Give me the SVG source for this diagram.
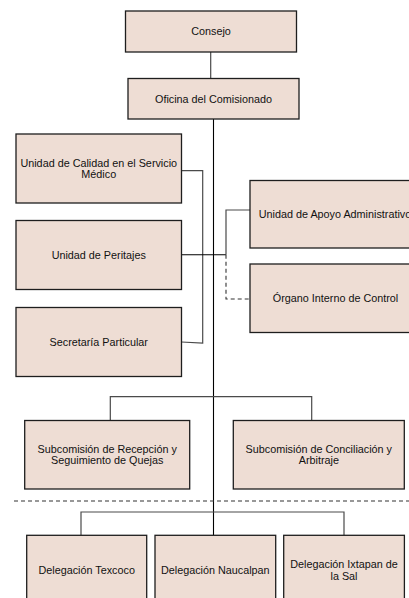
<svg xmlns="http://www.w3.org/2000/svg" width="409" height="598" viewBox="0 0 409 598">
<style>
.box{fill:#EEDDD4;stroke:#1e1e1e;stroke-width:1.3}
.t{font-family:"Liberation Sans",Arial,sans-serif;font-size:10.8px;fill:#111;text-anchor:middle}
.c{fill:none;stroke:#4a4a4a;stroke-width:1.2}
.m{fill:none;stroke:#000;stroke-width:1.1}
.d{fill:none;stroke:#333;stroke-width:1.1;stroke-dasharray:4 3}
</style>
<rect x="0" y="0" width="409" height="598" fill="#fff"/>
<g id="connectors">
<path class="c" d="M210.7,52 V78.5"/>
<path class="m" d="M213.5,119 V535.3"/>
<path class="c" d="M181.5,170.7 H202.7 V343 L181.5,342"/>
<path class="m" d="M181.5,254.7 H226"/>
<path class="c" d="M226,254.7 V210 H250"/>
<path class="d" d="M226,254.7 V299 H250"/>
<path class="c" d="M110.3,420.5 V396.7 H311.7 V420.5"/>
<path class="d" d="M14,501 H409"/>
<path class="c" d="M81,535.3 V512 H344 V535.3"/>
</g>
<g id="consejo"><rect class="box" x="125.5" y="11" width="171" height="41"/><text class="t" x="211" y="35.3">Consejo</text></g>
<g id="oficina"><rect class="box" x="128" y="78.5" width="171" height="40.5"/><text class="t" x="213.5" y="102.6">Oficina del Comisionado</text></g>
<g id="calidad"><rect class="box" x="16" y="134" width="165.5" height="69"/><text class="t" x="98.75" y="166.8">Unidad de Calidad en el Servicio</text><text class="t" x="98.75" y="178.3">Médico</text></g>
<g id="peritajes"><rect class="box" x="16" y="220.5" width="165.5" height="69"/><text class="t" x="98.75" y="258.6">Unidad de Peritajes</text></g>
<g id="secretaria"><rect class="box" x="16" y="307.5" width="165.5" height="69"/><text class="t" x="98.75" y="345.8">Secretaría Particular</text></g>
<g id="apoyo"><rect class="box" x="250" y="180.5" width="170" height="67.5"/><text class="t" x="335" y="218">Unidad de Apoyo Administrativo</text></g>
<g id="organo"><rect class="box" x="250" y="264" width="170" height="68.5"/><text class="t" x="335.5" y="302">Órgano Interno de Control</text></g>
<g id="recepcion"><rect class="box" x="24.7" y="420.5" width="165" height="68.5"/><text class="t" x="107.2" y="452.8">Subcomisión de Recepción y</text><text class="t" x="107.2" y="464.3">Seguimiento de Quejas</text></g>
<g id="conciliacion"><rect class="box" x="233.3" y="420.5" width="171" height="68.5"/><text class="t" x="318.8" y="452.8">Subcomisión de Conciliación y</text><text class="t" x="318.8" y="464.3">Arbitraje</text></g>
<g id="texcoco"><rect class="box" x="26.7" y="535.3" width="120" height="69"/><text class="t" x="86.7" y="573.6">Delegación Texcoco</text></g>
<g id="naucalpan"><rect class="box" x="155" y="535.3" width="120.7" height="69"/><text class="t" x="215.3" y="573.6">Delegación Naucalpan</text></g>
<g id="ixtapan"><rect class="box" x="283.7" y="535.3" width="120.7" height="69"/><text class="t" x="344" y="568">Delegación Ixtapan de</text><text class="t" x="344" y="579.5">la Sal</text></g>
</svg>
